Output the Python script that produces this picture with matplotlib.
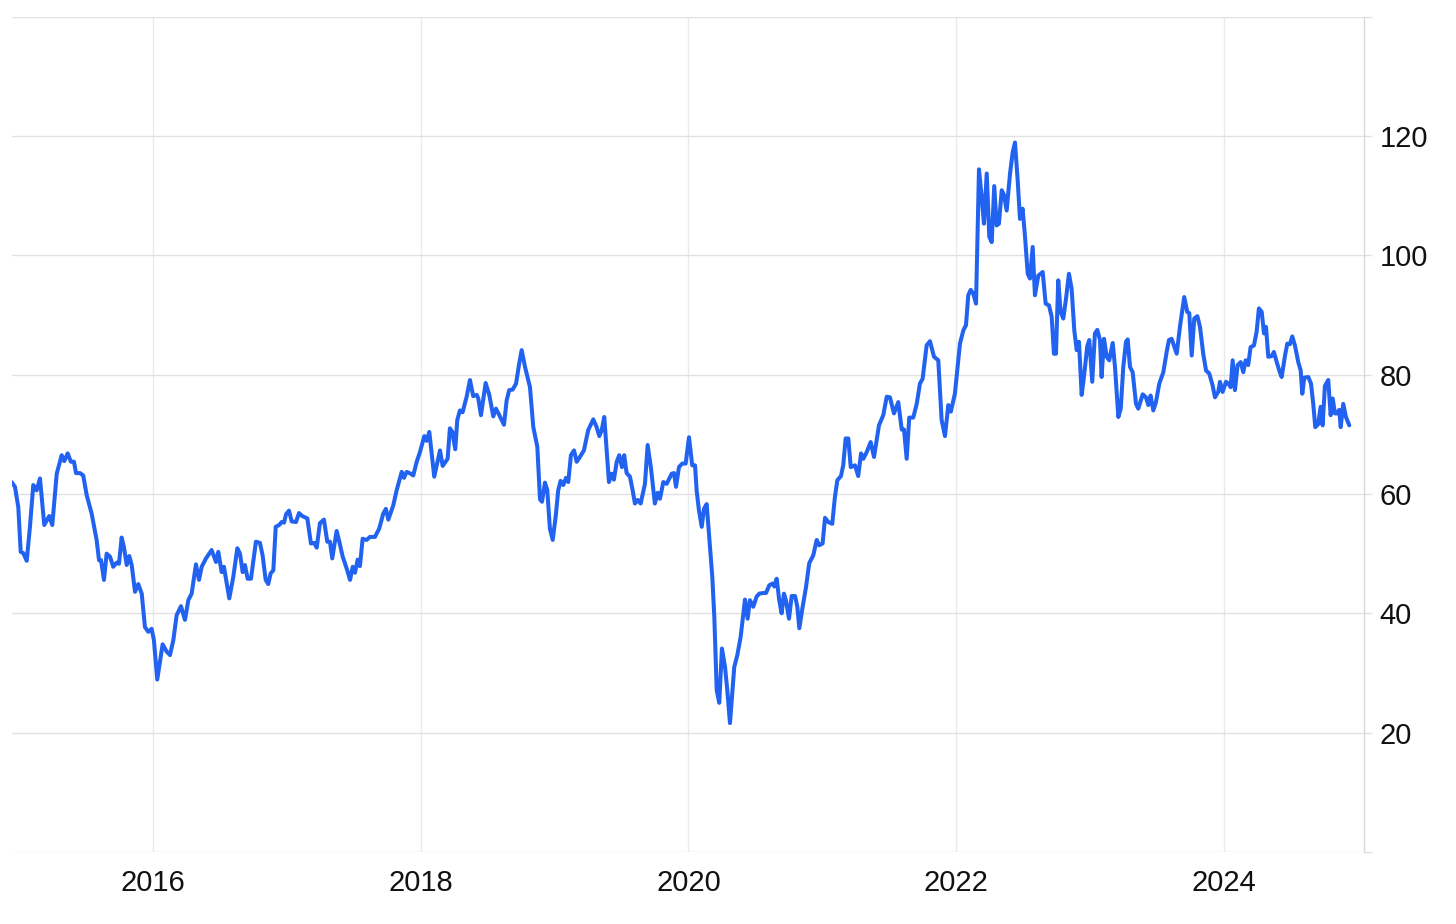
import matplotlib
matplotlib.use("Agg")
import matplotlib.pyplot as plt

plt.rcParams['font.family'] = ['Liberation Sans', 'DejaVu Sans']

# decimal-year dates and Brent price (USD/bbl)
year_frac = [
    2014.944, 2014.969, 2014.994, 2015.012, 2015.031, 2015.057, 2015.081, 2015.106, 2015.131, 2015.156,
    2015.188, 2015.225, 2015.248, 2015.281, 2015.318, 2015.337, 2015.363, 2015.387, 2015.410, 2015.425,
    2015.455, 2015.479, 2015.505, 2015.542, 2015.579, 2015.597, 2015.612, 2015.634, 2015.654, 2015.679,
    2015.703, 2015.729, 2015.746, 2015.766, 2015.783, 2015.804, 2015.823, 2015.841, 2015.866, 2015.890,
    2015.916, 2015.940, 2015.965, 2015.990, 2016.007, 2016.032, 2016.072, 2016.102, 2016.127, 2016.152,
    2016.177, 2016.209, 2016.239, 2016.264, 2016.289, 2016.321, 2016.344, 2016.364, 2016.396, 2016.438,
    2016.471, 2016.488, 2016.513, 2016.530, 2016.570, 2016.600, 2016.630,
    2016.650, 2016.670, 2016.687, 2016.707, 2016.732, 2016.769, 2016.799, 2016.819, 2016.842, 2016.861,
    2016.879, 2016.899, 2016.917, 2016.943, 2016.961, 2016.979, 2016.994, 2017.016, 2017.036, 2017.068,
    2017.091, 2017.115, 2017.153, 2017.180, 2017.205, 2017.223, 2017.247, 2017.277, 2017.302, 2017.322,
    2017.339, 2017.372, 2017.392, 2017.417, 2017.447, 2017.472, 2017.492, 2017.509, 2017.529, 2017.546,
    2017.566, 2017.596, 2017.621, 2017.658, 2017.690, 2017.720, 2017.740, 2017.758, 2017.795, 2017.820,
    2017.858, 2017.875, 2017.895, 2017.925, 2017.944, 2017.970, 2017.994, 2018.027, 2018.044, 2018.064,
    2018.101, 2018.144, 2018.164, 2018.201, 2018.218, 2018.236, 2018.258, 2018.273, 2018.293, 2018.313,
    2018.343, 2018.368, 2018.392, 2018.418, 2018.430, 2018.450, 2018.485, 2018.512, 2018.542, 2018.562,
    2018.587, 2018.622, 2018.642, 2018.661, 2018.687, 2018.712, 2018.736, 2018.754, 2018.779, 2018.816,
    2018.841, 2018.871, 2018.891, 2018.906, 2018.928, 2018.945, 2018.965, 2018.986, 2019.008, 2019.027,
    2019.045, 2019.065, 2019.085, 2019.102, 2019.122, 2019.145, 2019.165, 2019.189, 2019.219, 2019.251,
    2019.289, 2019.314, 2019.334, 2019.352, 2019.371, 2019.389, 2019.406, 2019.426, 2019.443, 2019.464,
    2019.483, 2019.503, 2019.520, 2019.538, 2019.563, 2019.583, 2019.600, 2019.621, 2019.643, 2019.675,
    2019.695, 2019.720, 2019.749, 2019.770, 2019.787, 2019.812, 2019.837, 2019.875, 2019.892, 2019.907,
    2019.929, 2019.954, 2019.979, 2020.004, 2020.028, 2020.049,
    2020.061, 2020.078, 2020.099, 2020.116, 2020.136, 2020.161, 2020.178, 2020.193, 2020.211, 2020.230,
    2020.250, 2020.273, 2020.290, 2020.310, 2020.327, 2020.342, 2020.365, 2020.390, 2020.422, 2020.442,
    2020.459, 2020.484, 2020.509, 2020.529, 2020.559, 2020.579, 2020.604, 2020.629, 2020.641, 2020.659,
    2020.678, 2020.696, 2020.713, 2020.728, 2020.751, 2020.771, 2020.796, 2020.813, 2020.828, 2020.853,
    2020.878, 2020.902, 2020.932, 2020.958, 2020.977, 2021.002, 2021.020, 2021.044, 2021.074, 2021.094,
    2021.112, 2021.139, 2021.156, 2021.174, 2021.194, 2021.212, 2021.244, 2021.268, 2021.289, 2021.306,
    2021.331, 2021.361, 2021.386, 2021.423, 2021.455, 2021.481, 2021.505, 2021.535, 2021.567, 2021.593,
    2021.610, 2021.630, 2021.649, 2021.679, 2021.705, 2021.729, 2021.749, 2021.779, 2021.804, 2021.834,
    2021.866, 2021.891, 2021.916, 2021.941, 2021.960, 2021.990, 2022.028, 2022.053, 2022.073, 2022.090,
    2022.108, 2022.127, 2022.148, 2022.170, 2022.190, 2022.207, 2022.228, 2022.247, 2022.265, 2022.284,
    2022.302, 2022.319, 2022.340, 2022.357, 2022.377, 2022.402, 2022.422, 2022.439, 2022.459, 2022.476,
    2022.496, 2022.514, 2022.534, 2022.551, 2022.571, 2022.588, 2022.613, 2022.646, 2022.668, 2022.693,
    2022.713, 2022.730, 2022.745, 2022.762, 2022.780, 2022.800, 2022.820, 2022.842, 2022.862, 2022.882,
    2022.900, 2022.917, 2022.937, 2022.954, 2022.979, 2022.994, 2023.016, 2023.036, 2023.054, 2023.074,
    2023.086, 2023.104, 2023.124, 2023.143, 2023.169, 2023.186, 2023.211, 2023.229, 2023.248, 2023.268,
    2023.281, 2023.298, 2023.318, 2023.343, 2023.360, 2023.393, 2023.417, 2023.435, 2023.452, 2023.472,
    2023.492, 2023.517, 2023.547, 2023.572, 2023.589, 2023.609, 2023.647, 2023.671, 2023.703, 2023.726,
    2023.741, 2023.759, 2023.778, 2023.801, 2023.821, 2023.845, 2023.866, 2023.890, 2023.916, 2023.933,
    2023.957, 2023.970, 2023.990, 2024.015, 2024.032, 2024.050, 2024.065, 2024.082, 2024.102, 2024.125,
    2024.144, 2024.162, 2024.181, 2024.199, 2024.224, 2024.244, 2024.261, 2024.282, 2024.299, 2024.314,
    2024.331, 2024.356, 2024.373, 2024.394, 2024.413, 2024.431, 2024.456, 2024.473, 2024.493, 2024.510,
    2024.530, 2024.555, 2024.573, 2024.585, 2024.600, 2024.630, 2024.650, 2024.667, 2024.682, 2024.704,
    2024.722, 2024.737, 2024.754, 2024.779, 2024.797, 2024.812, 2024.829, 2024.846, 2024.861, 2024.872,
    2024.891, 2024.911, 2024.936,
]

price = [
    62.0, 61.2, 57.8, 50.3, 50.1, 48.8, 54.5, 61.5, 60.6, 62.6,
    54.8, 56.3, 54.8, 63.4, 66.5, 65.5, 66.8, 65.4, 65.4, 63.5,
    63.5, 63.1, 59.8, 56.7, 52.3, 48.9, 48.9, 45.6, 50.0, 49.5,
    47.8, 48.5, 48.3, 52.7, 51.1, 48.1, 49.6, 48.1, 43.6, 44.9,
    43.3, 37.7, 36.9, 37.4, 35.5, 28.9, 34.8, 33.6, 33.0, 35.5,
    39.7, 41.2, 38.9, 42.2, 43.3, 48.2, 45.6, 47.8, 49.2, 50.6,
    48.6, 50.3, 46.9, 47.8, 42.5, 46.1, 50.9,
    50.0, 46.9, 48.1, 45.8, 45.8, 52.0, 51.8, 49.7, 45.6, 44.9,
    46.7, 47.2, 54.5, 54.8, 55.3, 55.2, 56.6, 57.2, 55.4, 55.3,
    56.8, 56.3, 55.9, 51.7, 51.8, 51.0, 55.1, 55.7, 52.0, 52.0,
    49.2, 53.8, 52.0, 49.5, 47.5, 45.6, 47.8, 46.8, 49.0, 47.9,
    52.5, 52.3, 52.8, 52.8, 54.2, 56.7, 57.5, 55.7, 58.1, 60.6,
    63.7, 62.7, 63.7, 63.4, 63.1, 65.4, 67.0, 69.7, 68.9, 70.4,
    62.9, 67.3, 64.7, 65.9, 71.0, 70.4, 67.5, 72.4, 74.0, 73.7,
    76.3, 79.1, 76.4, 76.6, 76.0, 73.2, 78.6, 76.6, 73.0, 74.3,
    73.2, 71.6, 75.7, 77.4, 77.5, 78.5, 81.9, 84.1, 81.3, 77.9,
    71.2, 67.9, 59.1, 58.7, 61.9, 60.7, 54.2, 52.3, 56.2, 60.6,
    62.2, 61.5, 62.7, 62.0, 66.5, 67.3, 65.4, 66.2, 67.3, 70.7,
    72.5, 71.2, 69.7, 70.7, 72.9, 67.3, 62.0, 63.4, 62.4, 65.4,
    66.5, 64.5, 66.5, 63.5, 62.9, 60.6, 58.4, 59.0, 58.4, 61.7,
    68.2, 64.3, 58.4, 60.2, 59.2, 62.0, 61.7, 63.4, 63.5, 61.2,
    64.5, 65.1, 65.1, 69.5, 64.8, 64.8,
    60.6, 57.3, 54.5, 57.5, 58.3, 51.1, 46.1, 39.4, 27.1, 25.0,
    34.1, 31.0, 27.1, 21.6, 26.6, 31.0, 33.0, 36.1, 42.3, 39.1,
    42.2, 41.1, 42.8, 43.3, 43.4, 43.4, 44.7, 45.0, 44.5, 45.8,
    42.2, 40.0, 43.3, 42.2, 39.1, 42.9, 42.9, 41.1, 37.5, 41.1,
    44.4, 48.4, 49.7, 52.3, 51.4, 51.7, 56.0, 55.3, 55.0, 59.5,
    62.3, 63.0, 64.8, 69.3, 69.3, 64.5, 64.8, 63.0, 66.8, 65.9,
    67.0, 68.7, 66.2, 71.5, 73.2, 76.3, 76.2, 73.5, 75.4, 70.8,
    70.8, 65.9, 72.8, 72.8, 75.1, 78.5, 79.3, 84.9, 85.6, 83.0,
    82.4, 72.4, 69.7, 74.9, 73.8, 76.8, 85.2, 87.4, 88.3, 93.3,
    94.2, 93.6, 91.9, 114.4, 109.8, 105.3, 113.7, 103.1, 102.2, 111.6,
    105.0, 105.3, 110.9, 110.1, 107.5, 113.7, 117.3, 118.9, 112.6, 106.1,
    107.8, 103.1, 96.9, 96.1, 101.4, 93.3, 96.6, 97.2, 91.9, 91.6,
    89.7, 83.5, 83.5, 95.8, 90.5, 89.4, 92.7, 96.9, 94.4, 87.4,
    84.1, 85.5, 76.6, 79.6, 84.8, 85.8, 78.8, 86.9, 87.5, 85.8,
    79.6, 86.0, 83.0, 82.4, 85.3, 81.3, 72.9, 74.3, 81.3, 85.5,
    85.9, 81.3, 80.4, 75.1, 74.3, 76.7, 76.2, 74.9, 76.5, 74.0,
    75.4, 78.5, 80.4, 83.8, 85.8, 86.0, 83.5, 88.0, 93.0, 90.5,
    90.3, 83.2, 89.4, 89.8, 88.0, 83.5, 80.7, 80.2, 78.1, 76.2,
    77.1, 78.8, 77.1, 78.8, 78.5, 77.9, 82.4, 77.4, 81.6, 82.1,
    80.4, 82.4, 81.6, 84.6, 84.9, 87.2, 91.1, 90.5, 86.9, 88.0,
    83.0, 83.1, 83.8, 82.1, 80.7, 79.6, 83.2, 85.2, 85.1, 86.4,
    84.9, 82.1, 80.7, 76.8, 79.5, 79.6, 78.5, 75.1, 71.2, 71.7,
    74.6, 71.5, 78.1, 79.1, 73.2, 76.0, 73.5, 73.5, 74.1, 71.2,
    75.1, 72.9, 71.5,
]

x_tick_years = [2016, 2018, 2020, 2022, 2024]
y_ticks = [0, 20, 40, 60, 80, 100, 120, 140]
y_tick_labels = ["", "20", "40", "60", "80", "100", "120", ""]

W, H = 1456, 924
fig = plt.figure(figsize=(W / 100, H / 100), dpi=100)
ax = fig.add_axes([12 / W, 1 - 852 / H, (1364 - 12) / W, (852 - 16.6) / H])

ax.plot(year_frac, price, color="#2262f0", linewidth=2.9, solid_joinstyle="round",
        solid_capstyle="round", zorder=3)

ax.set_xlim(2014.947, 2025.046)
ax.set_ylim(0, 140)

ax.set_xticks(x_tick_years)
ax.set_xticklabels([str(y) for y in x_tick_years])
ax.set_yticks(y_ticks)
ax.set_yticklabels(y_tick_labels)
ax.yaxis.tick_right()

ax.grid(axis="y", color="#e1e1e1", linewidth=1.0, zorder=0)
ax.grid(axis="x", color="#e6ebf0", linewidth=1.0, zorder=0)

for s in ["left", "top", "bottom"]:
    ax.spines[s].set_visible(False)
ax.spines["right"].set_color("#d9d9d9")
ax.spines["right"].set_linewidth(1.0)

ax.tick_params(axis="y", length=6, width=1.0, color="#e1e1e1", pad=5,
               labelsize=21, labelcolor="#111111")
ax.tick_params(axis="x", length=0, pad=12, labelsize=21, labelcolor="#111111")

fig.savefig("out.png", dpi=100, facecolor="white")
